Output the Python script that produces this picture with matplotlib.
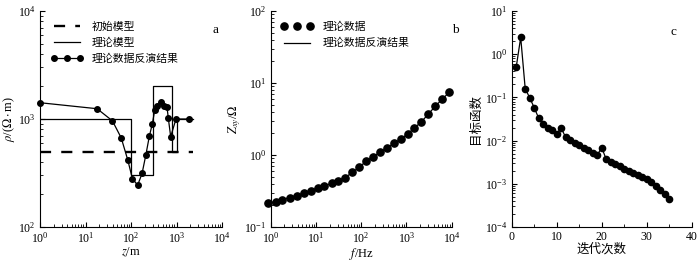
import matplotlib
matplotlib.use("Agg")
import matplotlib.pyplot as plt
from matplotlib.ticker import MultipleLocator

plt.rcParams['font.family'] = ['Liberation Serif', 'Noto Sans CJK SC']
plt.rcParams['mathtext.fontset'] = 'stix'
plt.rcParams['axes.unicode_minus'] = False

# (a) model and inversion
init_depth = [1, 2300]
init_rho = [500, 500]
model_depth = [1, 100, 300, 800, 1000, 2300]
model_rho = [1000, 300, 2000, 500, 1000, 1000]
inv_depth = [1, 18, 39, 61, 85, 107, 140, 175, 211, 253, 294, 332, 379, 450, 540, 617, 661, 745, 975, 1910]
inv_rho = [1415, 1245, 962, 668, 417, 281, 244, 313, 460, 692, 902, 1200, 1307, 1433, 1307, 1300, 1017, 687, 1000, 1000]

# (b) impedance
freq = [0.885, 1.29, 1.80, 2.63, 3.76, 5.44, 7.65, 10.9, 15.3, 22.3, 31.2, 44.5, 64.2, 90.3,
        128, 180, 260, 366, 523, 746, 1066, 1490, 2130, 3040, 4340, 6200, 8850]
zxy = [0.216, 0.225, 0.240, 0.256, 0.273, 0.294, 0.321, 0.345, 0.372, 0.402, 0.442, 0.486, 0.577, 0.673,
       0.820, 0.942, 1.094, 1.256, 1.446, 1.660, 1.965, 2.36, 2.89, 3.69, 4.77, 5.97, 7.46]

# (c) misfit vs iteration
iters = list(range(1, 36))
misfit = [0.50, 2.44, 0.160, 0.098, 0.058, 0.033, 0.0236, 0.020, 0.0174, 0.0145,
          0.0194, 0.0119, 0.0104, 0.0089, 0.0078, 0.0069, 0.0061, 0.0053, 0.0046, 0.0069,
          0.0037, 0.00318, 0.00284, 0.00255, 0.00225, 0.00202, 0.00178, 0.0016, 0.00144, 0.00129,
          0.00113, 0.0009, 0.00072, 0.00057, 0.00044]

W, H = 700, 263
fig = plt.figure(figsize=(7, 2.63), dpi=100)


def rect(x0, x1, y0, y1):
    return [x0 / W, 1 - y1 / H, (x1 - x0) / W, (y1 - y0) / H]


def style(ax):
    for s in ['top', 'right']:
        ax.spines[s].set_visible(False)
    ax.tick_params(which='both', direction='in', top=False, right=False, labelsize=8.5, pad=3)
    ax.tick_params(which='major', length=3.5, width=0.8)
    ax.tick_params(which='minor', length=2, width=0.6)


ax1 = fig.add_axes(rect(40, 222, 11, 227))
ax1.plot(init_depth, init_rho, color='black', lw=1.7, dashes=(4.7, 4.3), label='初始模型')
ax1.step(model_depth, model_rho, where='post', color='black', lw=0.9, label='理论模型')
ax1.plot(inv_depth, inv_rho, color='black', lw=0.9, marker='o', ms=4, label='理论数据反演结果', clip_on=False)
ax1.set_xscale('log')
ax1.set_yscale('log')
ax1.set_xlim(1, 1e4)
ax1.set_ylim(100, 1e4)
ax1.set_xlabel(r'$z$/m', fontsize=9, labelpad=0)
ax1.set_ylabel(r'$\rho$/($\Omega\cdot$m)', fontsize=9, labelpad=1)
ax1.legend(loc='upper left', bbox_to_anchor=(0.0, 1.0), frameon=False, fontsize=7.8,
           handlelength=3.0, handletextpad=0.8, labelspacing=0.55, numpoints=3, borderaxespad=0.55)
ax1.text(0.95, 0.9, 'a', transform=ax1.transAxes, fontsize=9.5)
style(ax1)

ax2 = fig.add_axes(rect(270.7, 451.7, 11, 227))
ax2.plot(freq, zxy, linestyle='none', marker='o', ms=5.2, color='black', label='理论数据', clip_on=False)
ax2.plot(freq, zxy, color='black', lw=0.9, label='理论数据反演结果')
ax2.set_xscale('log')
ax2.set_yscale('log')
ax2.set_xlim(1, 1e4)
ax2.set_ylim(0.1, 100)
ax2.set_xlabel(r'$f$/Hz', fontsize=9, labelpad=0)
ax2.set_ylabel(r'$Z_{xy}$/$\Omega$', fontsize=9, labelpad=1)
ax2.legend(loc='upper left', bbox_to_anchor=(0.0, 1.0), frameon=False, fontsize=7.8,
           handlelength=3.0, handletextpad=0.8, labelspacing=0.6, numpoints=3, borderaxespad=0.55)
ax2.text(1.0, 0.9, 'b', transform=ax2.transAxes, fontsize=9.5)
style(ax2)

ax3 = fig.add_axes(rect(511.7, 691.7, 11, 227))
ax3.plot(iters, misfit, color='black', lw=0.9, marker='o', ms=4.5)
ax3.set_yscale('log')
ax3.set_xlim(0, 40)
ax3.set_ylim(1e-4, 10)
ax3.xaxis.set_major_locator(MultipleLocator(10))
ax3.xaxis.set_minor_locator(MultipleLocator(5))
ax3.set_xlabel('迭代次数', fontsize=9, labelpad=0)
ax3.set_ylabel('目标函数', fontsize=9, labelpad=2)
ax3.text(0.88, 0.89, 'c', transform=ax3.transAxes, fontsize=9.5)
style(ax3)

fig.savefig('out.png', dpi=100)
